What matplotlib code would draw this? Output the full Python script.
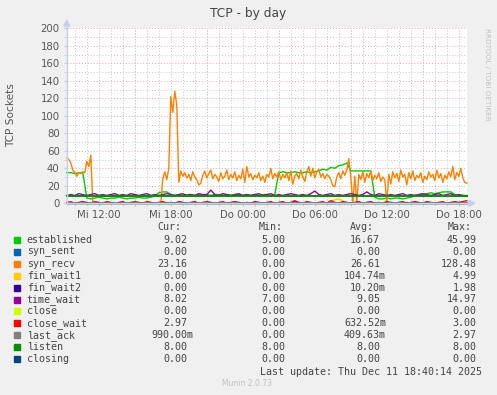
import numpy as np
import matplotlib
matplotlib.use("Agg")
import matplotlib.pyplot as plt
from matplotlib.ticker import MultipleLocator, FixedLocator

W, H = 497, 395

# ---------------- data ----------------
# syn_recv, 10-minute samples starting Wed 09:20
syn_recv = [52, 50, 46, 38, 35, 31, 35, 34, 36, 35, 48, 42, 55,
            0, 0, 0, 0, 0, 0, 0, 0, 0, 0, 0, 0, 0, 0, 0, 0, 0, 0, 0, 0, 0, 0,
            0, 0, 0, 0, 0, 0, 0, 0, 0, 0, 0, 0, 0,
            28, 36, 27, 40, 122, 104, 128, 112,
            24, 37, 31, 35, 29, 33, 26, 36, 30, 27, 21, 23, 32, 37, 29, 34, 38, 28, 33, 30,
            25, 35, 28, 31, 38, 27, 33, 29, 36, 26, 32, 28, 39, 24, 42, 30, 34, 27, 32, 29,
            35, 26, 31, 24, 33, 30, 40, 28, 34, 30, 36, 27, 33, 29, 35, 26, 37, 22, 31, 34,
            28, 38, 30, 25, 36, 42, 31, 40, 29, 36, 39, 30, 34, 28, 33, 31, 27, 20, 19, 30,
            35, 28, 37, 32, 38, 51, 30, 0, 31, 0, 33, 27, 36, 24, 34, 29, 37, 26, 32, 28,
            35, 25, 30, 27, 0, 33, 22, 36, 29, 34, 25, 38, 30, 33, 21, 35, 28, 37, 26, 32,
            29, 35, 24, 31, 27, 36, 30, 33, 26, 38, 29, 34, 24, 32, 28, 36, 30, 42, 27, 35,
            31, 40, 29, 24, 23]

# 20-minute samples starting Wed 09:20
established = [35, 35, 34, 35, 35,
               6, 5, 6, 7, 6, 5, 6, 6, 7, 6, 5, 6, 6, 7, 6, 6, 7, 8,
               12, 13, 13,
               10, 9, 10, 9, 10, 10, 9, 10, 9, 10, 9, 10, 10, 9, 10, 9, 10, 10, 9, 10, 9, 10,
               9, 10, 10, 9, 10,
               35, 36, 35, 35, 36, 35, 35, 36, 35, 36,
               37, 39, 38, 41, 40, 43, 44, 46,
               37, 37, 37, 37, 37, 37,
               7, 5, 5, 6, 5, 6, 6, 5, 6, 7,
               9, 10, 10, 11, 12, 11, 12, 13, 13, 13, 10,
               9, 9, 9]
time_wait = [9, 10, 9, 11, 10, 9, 10, 11, 9, 10, 9, 10, 11, 9, 10, 9, 11, 10, 9, 10,
             11, 9, 10, 9, 10, 11, 10, 9, 10, 11, 9, 10, 9, 11, 10, 10, 15, 10, 9, 11,
             10, 9, 10, 11, 9, 10, 9, 10, 11, 9, 10, 11, 9, 10, 9, 10, 11, 10, 9, 10,
             9, 11, 14, 10, 9, 10, 11, 9, 10, 9, 10, 11, 10, 9, 10, 13, 10, 9, 11, 10,
             9, 10, 9, 10, 11, 9, 10, 9, 10, 11, 10, 9, 10, 11, 9, 10, 11, 9, 10, 9, 8]
close_wait = [1, 2, 0, 1, 2, 1, 0, 2, 1, 0, 2, 1, 0, 1, 2, 0, 1, 2, 1, 0,
              2, 1, 0, 1, 2, 0, 1, 0, 2, 1, 0, 1, 2, 0, 1, 2, 1, 0, 1, 2,
              0, 1, 2, 1, 0, 1, 0, 2, 1, 0, 1, 2, 0, 1, 2, 0, 1, 3, 1, 0,
              2, 1, 0, 1, 2, 0, 3, 1, 0, 2, 1, 0, 1, 2, 0, 1, 2, 0, 1, 0,
              2, 1, 0, 1, 2, 0, 1, 2, 1, 0, 2, 1, 0, 1, 2, 0, 1, 2, 1, 2, 3]
last_ack = [0, 1, 0, 0, 1, 0, 1, 0, 0, 1, 0, 0, 1, 0, 0, 1, 0, 1, 0, 0,
            1, 0, 0, 1, 0, 0, 1, 0, 1, 0, 0, 1, 0, 0, 1, 0, 0, 1, 0, 1,
            0, 0, 1, 0, 0, 1, 0, 0, 1, 0, 1, 0, 0, 1, 0, 0, 1, 0, 0, 1,
            0, 1, 0, 0, 1, 0, 0, 1, 0, 0, 1, 0, 1, 0, 0, 1, 0, 0, 1, 0,
            0, 1, 0, 1, 0, 0, 1, 0, 0, 1, 0, 1, 0, 0, 1, 0, 0, 1, 0, 0, 1]
fin_wait1 = [0, 0, 0, 0, 0, 0, 0, 0, 0, 0, 0, 0, 0, 0, 0, 0, 0, 0, 0, 0,
             0, 0, 0, 0, 0, 0, 0, 0, 0, 0, 0, 0, 0, 0, 0, 0, 0, 0, 0, 0,
             0, 0, 0, 0, 0, 0, 0, 0, 0, 0, 0, 0, 0, 0, 0, 0, 0, 0, 0, 0,
             0, 0, 0, 0, 0, 0, 2, 4, 5, 3, 0, 0, 0, 0, 0, 0, 0, 0, 0, 0,
             0, 0, 0, 0, 0, 0, 0, 0, 0, 0, 0, 0, 0, 0, 0, 0, 0, 0, 0, 0, 0]
fin_wait2 = [0, 0, 0, 0, 0, 0, 0, 0, 0, 0, 0, 0, 0, 0, 0, 0, 0, 0, 0, 0,
             0, 0, 0, 0, 0, 0, 0, 0, 0, 0, 0, 0, 0, 0, 0, 0, 0, 0, 0, 0,
             0, 0, 0, 0, 0, 0, 0, 0, 0, 0, 0, 0, 0, 0, 0, 0, 0, 2, 0, 0,
             0, 0, 0, 0, 0, 0, 0, 0, 0, 0, 0, 0, 0, 0, 0, 0, 0, 0, 0, 0,
             0, 0, 0, 0, 0, 1, 0, 0, 0, 0, 0, 0, 0, 0, 0, 0, 0, 0, 0, 0, 0]
listen_v = 8
zero_v = 0

names = ["established", "syn_sent", "syn_recv", "fin_wait1", "fin_wait2", "time_wait",
         "close", "close_wait", "last_ack", "listen", "closing"]
colors = ["#00CC00", "#0066B3", "#FF8000", "#FFCC00", "#330099", "#990099",
          "#CCFF00", "#FF0000", "#808080", "#008F00", "#00487D"]
cur = ["9.02", "0.00", "23.16", "0.00", "0.00", "8.02", "0.00", "2.97", "990.00m", "8.00", "0.00"]
vmin = ["5.00", "0.00", "0.00", "0.00", "0.00", "7.00", "0.00", "0.00", "0.00", "8.00", "0.00"]
vavg = ["16.67", "0.00", "26.61", "104.74m", "10.20m", "9.05", "0.00", "632.52m", "409.63m", "8.00", "0.00"]
vmax = ["45.99", "0.00", "128.48", "4.99", "1.98", "14.97", "0.00", "3.00", "2.97", "8.00", "0.00"]

x_labels = ["Mi 12:00", "Mi 18:00", "Do 00:00", "Do 06:00", "Do 12:00", "Do 18:00"]
x_label_pos = [12, 18, 24, 30, 36, 42]
y_ticks = [0, 20, 40, 60, 80, 100, 120, 140, 160, 180, 200]

# ---------------- time axes ----------------
t0 = 9 + 20 / 60
t10 = t0 + np.arange(len(syn_recv)) / 6.0
t20 = t0 + np.arange(len(established)) / 3.0
xmin, xmax = 9.325, 9.325 + 400.3 / 12

# ---------------- figure ----------------
fig = plt.figure(figsize=(W / 100, H / 100), dpi=100)
fig.patch.set_facecolor("#F0F0F0")

def fx(x):
    return x / W

def fy(y):
    return 1 - y / H

L, R, T, B = 66.7, 467.0, 28.3, 203.3
ax = fig.add_axes([fx(L), fy(B), (R - L) / W, (B - T) / H])
ax.set_facecolor("white")
ax.set_xlim(xmin, xmax)
ax.set_ylim(0, 200)
for s in ax.spines.values():
    s.set_visible(False)

# grid
ax.yaxis.set_major_locator(FixedLocator(y_ticks))
ax.yaxis.set_minor_locator(MultipleLocator(10))
ax.xaxis.set_major_locator(FixedLocator(x_label_pos))
ax.xaxis.set_minor_locator(MultipleLocator(1))
ax.grid(which="minor", color="#C8C8C8", linestyle=(0, (1, 2)), linewidth=0.7)
ax.grid(which="major", axis="x", color="#C8C8C8", linestyle=(0, (1, 2)), linewidth=0.7)
ax.grid(which="major", axis="y", color="#E8A8A8", linestyle=(0, (1, 2)), linewidth=0.7)
for xv in np.arange(15, xmax, 6):
    ax.axvline(xv, ymin=-0.015, ymax=1, color="#E8A8A8", linestyle=(0, (1, 2)),
               linewidth=0.7, clip_on=False, zorder=0.5)
ax.set_axisbelow(True)

ax.set_xticks(x_label_pos)
ax.set_xticklabels(x_labels)
ax.set_yticks(y_ticks)
ax.set_yticklabels([str(v) for v in y_ticks])
ax.tick_params(axis="both", which="major", length=2, color="#C8C8C8",
               labelsize=7.3, labelcolor="#555555", pad=3)
ax.tick_params(axis="both", which="minor", length=2, color="#C8C8C8")

# series (munin drawing order)
series = [
    (t20, established), (t20[[0, -1]], [zero_v, zero_v]), (t10, syn_recv),
    (t20, fin_wait1), (t20, fin_wait2), (t20, time_wait),
    (t20[[0, -1]], [zero_v, zero_v]), (t20, close_wait), (t20, last_ack),
    (t20[[0, -1]], [listen_v, listen_v]), (t20[[0, -1]], [zero_v, zero_v]),
]
for i, ((tt, vv), c) in enumerate(zip(series, colors)):
    lw = 1.4 if names[i] == "listen" else 1.0
    ax.plot(tt, vv, color=c, linewidth=lw, zorder=2 + i * 0.1, clip_on=False)

# axes lines with arrows
axis_col = "#C8CEF2"
fig.add_artist(plt.Line2D([fx(L), fx(L)], [fy(B + 2), fy(24)], color=axis_col, lw=1.0))
fig.add_artist(plt.Line2D([fx(L - 3), fx(R + 3)], [fy(B), fy(B)], color=axis_col, lw=1.0))
fig.add_artist(plt.Polygon([[fx(L - 3), fy(26)], [fx(L + 3), fy(26)], [fx(L), fy(20)]],
                           closed=True, color=axis_col, transform=fig.transFigure))
fig.add_artist(plt.Polygon([[fx(R + 2), fy(B - 3)], [fx(R + 2), fy(B + 3)], [fx(R + 8), fy(B)]],
                           closed=True, color=axis_col, transform=fig.transFigure))

# titles
fig.text(fx(248), fy(13), "TCP - by day", ha="center", va="center", fontsize=8.8, color="#444444")
fig.text(fx(11), fy(115), "TCP Sockets", ha="center", va="center", rotation=90,
         fontsize=7.6, color="#555555")
fig.text(fx(487), fy(28), "RRDTOOL / TOBI OETIKER", ha="center", va="top", rotation=270,
         fontsize=5.2, color="#C0C0C0")

# legend
mono = "DejaVu Sans Mono"
fs = 7.2
txtc = "#444444"
cw = 6.0
hdr_y = 227.5
fig.text(fx(181), fy(hdr_y), "Cur:", ha="right", va="center", family=mono, fontsize=fs, color=txtc)
fig.text(fx(282.7), fy(hdr_y), "Min:", ha="right", va="center", family=mono, fontsize=fs, color=txtc)
fig.text(fx(374), fy(hdr_y), "Avg:", ha="right", va="center", family=mono, fontsize=fs, color=txtc)
fig.text(fx(471.7), fy(hdr_y), "Max:", ha="right", va="center", family=mono, fontsize=fs, color=txtc)

col_right = [187.7, 285.0, 380.0, 476.7]
for k, name in enumerate(names):
    yy = 240 + 11.9 * k
    fig.add_artist(plt.Rectangle((fx(14), fy(yy + 3)), 6 / W, 6 / H, color=colors[k],
                                 transform=fig.transFigure))
    fig.text(fx(26.7), fy(yy), name, ha="left", va="center", family=mono, fontsize=fs, color=txtc)
    for cr, vals in zip(col_right, [cur, vmin, vavg, vmax]):
        s = vals[k]
        xr = cr + (cw if s.endswith("m") else 0)
        fig.text(fx(xr), fy(yy), s, ha="right", va="center", family=mono, fontsize=fs, color=txtc)

fig.text(fx(481.7), fy(371.7), "Last update: Thu Dec 11 18:40:14 2025", ha="right", va="center",
         family=mono, fontsize=fs, color=txtc)
fig.text(fx(247), fy(384), "Munin 2.0.73", ha="center", va="center", fontsize=5.5, color="#C0C0C0")

fig.savefig("out.png", dpi=100, facecolor=fig.get_facecolor())
